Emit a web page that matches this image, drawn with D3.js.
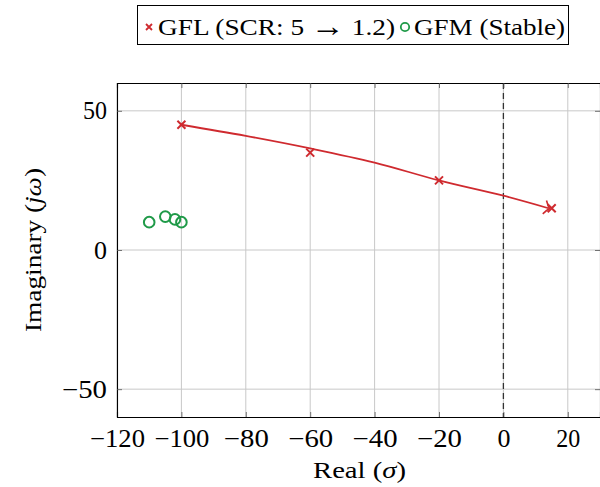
<!DOCTYPE html>
<html>
<head>
<meta charset="utf-8">
<script src="https://cdn.jsdelivr.net/npm/d3@7"></script>
<style>
  body { margin: 0; background: #fff; }
  text { font-family: "Liberation Serif", "DejaVu Serif", serif; fill: #000; }
</style>
</head>
<body>
<div id="chart"></div>
<script>
// data
var gflReal = [-100, -60, -20, 15];
var gflImag = [45, 35, 25, 15];
// smoothed trajectory as it is drawn
var pathReal = [-100, -80, -60, -40, -20, 0, 14];
var pathImag = [45, 41, 36.5, 31.4, 25, 19.5, 15];
var gfmReal = [-110, -105, -102, -100];
var gfmImag = [10, 12, 11, 10];
var xTicks = [-120, -100, -80, -60, -40, -20, 0, 20];
var yTicks = [-50, 0, 50];

var svgWidth = 600;
var svgHeight = 487;
var margin = { top: 83, right: 0, bottom: 70, left: 117 };
var width = 483;
var height = svgHeight - margin.top - margin.bottom;

var red = "#cf2a2f";
var green = "#1f9a48";
var fmt = d => d < 0 ? "\u2212" + Math.abs(d) : d;

var svg = d3.select("#chart").append("svg")
  .attr("width", svgWidth)
  .attr("height", svgHeight);

var chartGroup = svg.append("g")
  .attr("transform", `translate(${margin.left}, ${margin.top})`);

var x = d3.scaleLinear().domain([-120, 30]).range([0, width]);
var y = d3.scaleLinear().domain([-60, 60]).range([height, 0]);

// grid
chartGroup.selectAll(".vgrid").data(xTicks).enter().append("line")
  .attr("x1", d => x(d)).attr("x2", d => x(d))
  .attr("y1", 0).attr("y2", height)
  .attr("stroke", "#c8c8c8").attr("stroke-width", 1);
chartGroup.selectAll(".hgrid").data(yTicks).enter().append("line")
  .attr("x1", 0).attr("x2", width)
  .attr("y1", d => y(d)).attr("y2", d => y(d))
  .attr("stroke", "#c8c8c8").attr("stroke-width", 1);

// dashed line at sigma = 0
chartGroup.append("line")
  .attr("x1", x(0)).attr("x2", x(0))
  .attr("y1", 0).attr("y2", height)
  .attr("stroke", "#333").attr("stroke-width", 1.3)
  .attr("stroke-dasharray", "6,4");

// axes with inward ticks
var bottomAxis = d3.axisBottom(x).tickValues(xTicks).tickSize(-5).tickPadding(9).tickFormat(fmt);
var topAxis = d3.axisTop(x).tickValues(xTicks).tickSize(-5).tickFormat("");
var leftAxis = d3.axisLeft(y).tickValues(yTicks).tickSize(-5).tickPadding(10).tickFormat(fmt);
var rightAxis = d3.axisRight(y).tickValues(yTicks).tickSize(-5).tickFormat("");

var gx = chartGroup.append("g").attr("transform", `translate(0, ${height})`).call(bottomAxis);
var gxt = chartGroup.append("g").call(topAxis);
var gy = chartGroup.append("g").call(leftAxis);
var gyr = chartGroup.append("g").attr("transform", `translate(${width}, 0)`).call(rightAxis);

[gx, gxt, gy, gyr].forEach(g => {
  g.select(".domain").attr("stroke", "#000").attr("stroke-width", 1.1);
  g.selectAll(".tick line").attr("stroke", "#555").attr("stroke-width", 0.8);
  g.selectAll("text").style("font-size", "25px")
    .style("font-family", "'Liberation Serif', serif").attr("fill", "#000");
});
gx.selectAll("text").attr("y", 12);
// spread the glyphs a bit, the source font is wider than Times
gx.selectAll("text").attr("textLength", d => d < 0 ? (d <= -100 ? 55 : 45) : (d == 0 ? 13 : 24))
  .attr("lengthAdjust", "spacingAndGlyphs");
gy.selectAll("text").attr("textLength", d => d < 0 ? 45 : (d == 0 ? 13 : 24))
  .attr("lengthAdjust", "spacingAndGlyphs");

// GFL trajectory (smooth)
var pathData = pathReal.map((r, i) => [r, pathImag[i]]);
var line = d3.line()
  .x(d => x(d[0])).y(d => y(d[1]))
  .curve(d3.curveMonotoneX);

chartGroup.append("path")
  .datum(pathData)
  .attr("d", line)
  .attr("fill", "none")
  .attr("stroke", red)
  .attr("stroke-width", 1.8);

// arrow tip at the end of the trajectory
var last = pathData[pathData.length - 1];
var prev = pathData[pathData.length - 2];
var ang = Math.atan2(y(last[1]) - y(prev[1]), x(last[0]) - x(prev[0])) * 180 / Math.PI;
chartGroup.append("path")
  .attr("d", "M-4,-7 Q-1,-2 1,0 Q-1,2 -4,7")
  .attr("transform", `translate(${x(last[0])}, ${y(last[1])}) rotate(${ang})`)
  .attr("fill", "none")
  .attr("stroke", red)
  .attr("stroke-width", 1.6);

// GFL markers
var gflData = gflReal.map((r, i) => [r, gflImag[i]]);
chartGroup.selectAll(".gfl").data(gflData).enter().append("path")
  .attr("d", "M-4,-4L4,4M-4,4L4,-4")
  .attr("transform", d => `translate(${x(d[0])}, ${y(d[1])})`)
  .attr("stroke", red).attr("stroke-width", 2).attr("fill", "none");

// GFM markers
var gfmData = gfmReal.map((r, i) => [r, gfmImag[i]]);
chartGroup.selectAll(".gfm").data(gfmData).enter().append("circle")
  .attr("cx", d => x(d[0]))
  .attr("cy", d => y(d[1]))
  .attr("r", 5.3)
  .attr("fill", "none")
  .attr("stroke", green)
  .attr("stroke-width", 2);

// axis labels
svg.append("text")
  .attr("x", 313)
  .attr("y", 478)
  .attr("textLength", 93).attr("lengthAdjust", "spacingAndGlyphs")
  .style("font-size", "24px")
  .html("Real (<tspan font-style='italic'>σ</tspan>)");

svg.append("text")
  .attr("transform", `translate(41, 332) rotate(-90)`)
  .attr("textLength", 164).attr("lengthAdjust", "spacingAndGlyphs")
  .style("font-size", "24px")
  .html("Imaginary (<tspan font-style='italic'>jω</tspan>)");

// legend
var legend = svg.append("g");
legend.append("rect")
  .attr("x", 137.5).attr("y", 5.5)
  .attr("width", 431).attr("height", 39)
  .attr("fill", "#fff").attr("stroke", "#000").attr("stroke-width", 1);

legend.append("path")
  .attr("d", "M-3,-3L3,3M-3,3L3,-3")
  .attr("transform", "translate(149, 27)")
  .attr("stroke", red).attr("stroke-width", 1.8).attr("fill", "none");
legend.append("text")
  .attr("x", 158).attr("y", 35)
  .attr("textLength", 237).attr("lengthAdjust", "spacingAndGlyphs")
  .style("font-size", "24px")
  .html("GFL (SCR: 5 <tspan font-size='30px' dy='1'>\u2192</tspan><tspan dy='-1'> 1.2)</tspan>");

legend.append("circle")
  .attr("cx", 405).attr("cy", 27).attr("r", 4.2)
  .attr("fill", "none").attr("stroke", green).attr("stroke-width", 1.8);
legend.append("text")
  .attr("x", 414).attr("y", 35)
  .attr("textLength", 151).attr("lengthAdjust", "spacingAndGlyphs")
  .style("font-size", "24px")
  .text("GFM (Stable)");
</script>
</body>
</html>
